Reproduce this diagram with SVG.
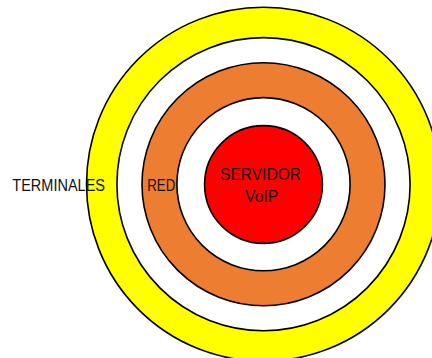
<svg xmlns="http://www.w3.org/2000/svg" width="432" height="358" viewBox="0 0 432 358">
<style>
.ring{stroke:#000;stroke-width:1.6}
.t{font-family:"Liberation Sans",Arial,sans-serif;font-size:16px;fill:#111}
</style>
<rect width="432" height="358" fill="#fff"/>
<g id="terminales">
<circle class="ring" cx="263.5" cy="184.2" r="177" fill="#FFFF00"/>
<circle class="ring" cx="263.5" cy="184.2" r="146.6" fill="#fff"/>
</g>
<g id="red">
<circle class="ring" cx="263.5" cy="184.2" r="121.5" fill="#ED7D31"/>
<circle class="ring" cx="263.5" cy="184.2" r="86.6" fill="#fff"/>
</g>
<g id="servidor">
<circle class="ring" cx="263.5" cy="184.5" r="58.9" fill="#FF0000"/>
<text class="t" x="220" y="180" textLength="81" lengthAdjust="spacingAndGlyphs">SERVIDOR</text>
<text class="t" x="245" y="201.7" textLength="33.3" lengthAdjust="spacingAndGlyphs">VoIP</text>
</g>
<g id="labels">
<text class="t" x="12.3" y="191.3" textLength="92.7" lengthAdjust="spacingAndGlyphs">TERMINALES</text>
<text class="t" x="147.3" y="191.3" textLength="28" lengthAdjust="spacingAndGlyphs">RED</text>
</g>
<g id="connectors"/>
</svg>
